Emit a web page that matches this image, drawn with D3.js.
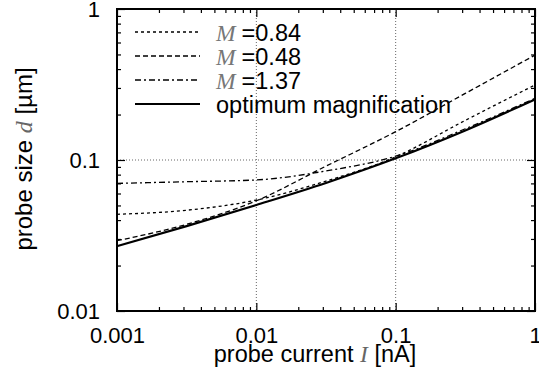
<!DOCTYPE html>
<html>
<head>
<meta charset="utf-8">
<script src="https://cdn.jsdelivr.net/npm/d3@7"></script>
<style>
  body { margin: 0; background: #fff; }
  svg text { font-family: "Liberation Sans", Arial, sans-serif; }
</style>
</head>
<body>
<svg id="chart" width="539" height="389"></svg>
<script>
// probe current I [nA], sampled at half decades
const current = [0.001, 0.00316, 0.01, 0.0316, 0.1, 0.316, 1]
// probe size d [um] for each magnification
const sizeM084 = [0.0437, 0.0465, 0.0543, 0.0725, 0.105, 0.183, 0.314]
const sizeM048 = [0.0292, 0.0375, 0.0537, 0.091, 0.154, 0.276, 0.495]
const sizeM137 = [0.070, 0.0718, 0.0738, 0.0846, 0.106, 0.161, 0.256]
const sizeOpt = [0.0269, 0.0365, 0.0504, 0.0705, 0.1026, 0.157, 0.252]
const legendLabels = ['0.84', '0.48', '1.37', 'optimum magnification']
const xTicks = [0.001, 0.01, 0.1, 1]
const yTicks = [0.01, 0.1, 1]
const xTickLabels = ['0.001', '0.01', '0.1', '1']
const yTickLabels = ['0.01', '0.1', '1']

const series = [
  { values: sizeM084, dash: '3,3', width: 1.3, label: legendLabels[0], math: true },
  { values: sizeM048, dash: '5,3', width: 1.3, label: legendLabels[1], math: true },
  { values: sizeM137, dash: '6,3,2,3', width: 1.3, label: legendLabels[2], math: true },
  { values: sizeOpt, dash: null, width: 2.2, label: legendLabels[3], math: false }
]

const plotL = 117, plotR = 535, plotT = 9, plotB = 311

const svg = d3.select('#chart')

const x = d3.scaleLog().domain([0.001, 1]).range([plotL, plotR])
const y = d3.scaleLog().domain([0.01, 1]).range([plotB, plotT])

const minorX = x.ticks().filter(t => !xTicks.some(m => Math.abs(m - t) / m < 1e-6))
const minorY = y.ticks().filter(t => !yTicks.some(m => Math.abs(m - t) / m < 1e-6))

// grid (only inner decades)
svg.append('g')
  .selectAll('line')
  .data(xTicks.slice(1, -1))
  .join('line')
  .attr('x1', d => x(d)).attr('x2', d => x(d))
  .attr('y1', plotT).attr('y2', plotB)
  .attr('stroke', '#666').attr('stroke-width', 1).attr('stroke-dasharray', '1,2')

svg.append('g')
  .selectAll('line')
  .data(yTicks.slice(1, -1))
  .join('line')
  .attr('x1', plotL).attr('x2', plotR)
  .attr('y1', d => y(d)).attr('y2', d => y(d))
  .attr('stroke', '#666').attr('stroke-width', 1).attr('stroke-dasharray', '1,2')

// axes: major ticks with labels, minor ticks without, all pointing inward
const styleAxis = g => {
  g.select('.domain').remove()
  g.selectAll('line').attr('stroke', '#000').attr('stroke-width', 1.2)
  g.selectAll('text').attr('font-size', 22).attr('fill', '#000')
    .attr('font-family', '"Liberation Sans", Arial, sans-serif')
}

svg.append('g').attr('transform', `translate(0,${plotB})`)
  .call(d3.axisBottom(x).tickValues(xTicks).tickFormat((d, i) => xTickLabels[i])
    .tickSize(-8).tickPadding(16))
  .call(styleAxis)
svg.append('g').attr('transform', `translate(0,${plotB})`)
  .call(d3.axisBottom(x).tickValues(minorX).tickFormat('').tickSize(-4))
  .call(styleAxis)
svg.append('g').attr('transform', `translate(0,${plotT})`)
  .call(d3.axisTop(x).tickValues(xTicks).tickFormat('').tickSize(-8))
  .call(styleAxis)
svg.append('g').attr('transform', `translate(0,${plotT})`)
  .call(d3.axisTop(x).tickValues(minorX).tickFormat('').tickSize(-4))
  .call(styleAxis)

svg.append('g').attr('transform', `translate(${plotL},0)`)
  .call(d3.axisLeft(y).tickValues(yTicks).tickFormat((d, i) => yTickLabels[i])
    .tickSize(-8).tickPadding(17))
  .call(styleAxis)
svg.append('g').attr('transform', `translate(${plotL},0)`)
  .call(d3.axisLeft(y).tickValues(minorY).tickFormat('').tickSize(-4))
  .call(styleAxis)
svg.append('g').attr('transform', `translate(${plotR},0)`)
  .call(d3.axisRight(y).tickValues(yTicks).tickFormat('').tickSize(-8))
  .call(styleAxis)
svg.append('g').attr('transform', `translate(${plotR},0)`)
  .call(d3.axisRight(y).tickValues(minorY).tickFormat('').tickSize(-4))
  .call(styleAxis)

// curves
const line = d3.line()
  .x((d, i) => x(current[i]))
  .y(d => y(d))
  .curve(d3.curveMonotoneX)

svg.append('g')
  .selectAll('path')
  .data(series)
  .join('path')
  .attr('d', d => line(d.values))
  .attr('fill', 'none')
  .attr('stroke', '#000')
  .attr('stroke-width', d => d.width)
  .attr('stroke-dasharray', d => d.dash)

// frame
svg.append('rect')
  .attr('x', plotL).attr('y', plotT)
  .attr('width', plotR - plotL).attr('height', plotB - plotT)
  .attr('fill', 'none').attr('stroke', '#000').attr('stroke-width', 2)

// legend
const legend = svg.append('g')
  .selectAll('g')
  .data(series)
  .join('g')
  .attr('transform', (d, i) => `translate(0,${32 + i * 24})`)

legend.append('line')
  .attr('x1', 135).attr('x2', 200)
  .attr('stroke', '#000')
  .attr('stroke-width', d => d.width)
  .attr('stroke-dasharray', d => d.dash)

const legendText = legend.append('text')
  .attr('x', 216).attr('y', 8.5)
  .attr('font-size', 23.5)

legendText.filter(d => d.math).append('tspan')
  .attr('font-family', '"Liberation Serif", "DejaVu Serif", serif')
  .attr('font-style', 'italic')
  .attr('fill', '#777')
  .text('M')
legendText.filter(d => d.math).append('tspan')
  .attr('dx', 6)
  .text(d => '=' + d.label)
legendText.filter(d => !d.math).text(d => d.label)

// axis titles
const xTitle = svg.append('text')
  .attr('x', 315).attr('y', 362)
  .attr('text-anchor', 'middle')
  .attr('font-size', 23.5)
xTitle.append('tspan').text('probe current ')
xTitle.append('tspan')
  .attr('font-family', '"Liberation Serif", "DejaVu Serif", serif')
  .attr('font-style', 'italic').attr('fill', '#666').text('I')
xTitle.append('tspan').text(' [nA]')

const yTitle = svg.append('text')
  .attr('transform', 'translate(32,159) rotate(-90)')
  .attr('text-anchor', 'middle')
  .attr('font-size', 24)
yTitle.append('tspan').text('probe size ')
yTitle.append('tspan')
  .attr('font-family', '"Liberation Serif", "DejaVu Serif", serif')
  .attr('font-style', 'italic').attr('fill', '#666').text('d')
yTitle.append('tspan').text(' [µm]')
</script>
</body>
</html>
